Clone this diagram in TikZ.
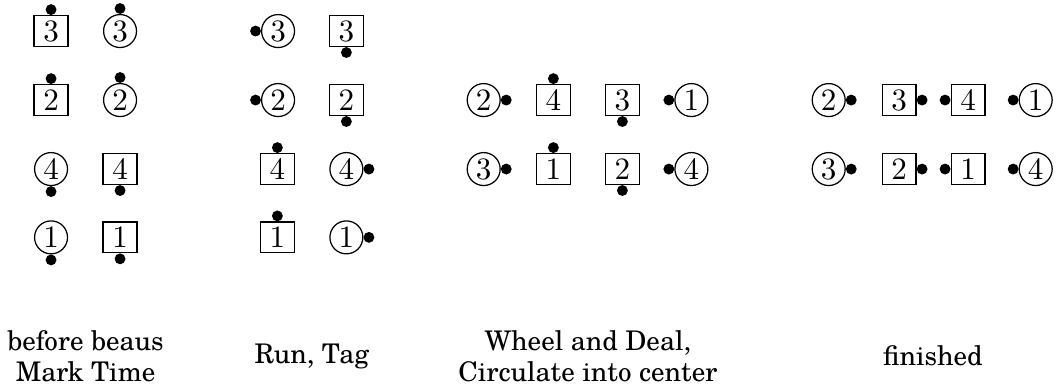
\documentclass[tikz,border=0pt]{standalone}
\usepackage{fontspec}
\setmainfont{TeX Gyre Schola}
\usepackage{tikz}

\begin{document}
\begin{tikzpicture}[x=0.78cm, y=0.78cm,
    boy/.style={draw, line width=0.4pt, rectangle, inner sep=0pt, minimum width=10.9pt, minimum height=9.9pt},
    girl/.style={draw, line width=0.4pt, circle, inner sep=0pt, minimum size=10.6pt},
    facing/.style={fill=black},
    caption/.style={align=center, font=\fontsize{8.7}{10.1}\selectfont}]
  \useasboundingbox (0,0) rectangle (15.362,-5.681);

  % --- 1. before beaus Mark Time ---
  \node[boy]  (a3b) at (0.74,-0.45) {$3$};
  \node[girl] (a3g) at (1.74,-0.45) {$3$};
  \node[boy]  (a2b) at (0.74,-1.45) {$2$};
  \node[girl] (a2g) at (1.74,-1.45) {$2$};
  \node[girl] (a4g) at (0.74,-2.45) {$4$};
  \node[boy]  (a4b) at (1.74,-2.45) {$4$};
  \node[girl] (a1g) at (0.74,-3.44) {$1$};
  \node[boy]  (a1b) at (1.74,-3.44) {$1$};
  \fill[facing] (a3b.north) ++(0,1.75pt) circle (1.75pt);
  \fill[facing] (a3g.north) ++(0,1.75pt) circle (1.75pt);
  \fill[facing] (a2b.north) ++(0,1.75pt) circle (1.75pt);
  \fill[facing] (a2g.north) ++(0,1.75pt) circle (1.75pt);
  \fill[facing] (a4g.south) ++(0,-1.75pt) circle (1.75pt);
  \fill[facing] (a4b.south) ++(0,-1.75pt) circle (1.75pt);
  \fill[facing] (a1g.south) ++(0,-1.75pt) circle (1.75pt);
  \fill[facing] (a1b.south) ++(0,-1.75pt) circle (1.75pt);

  % --- 2. Run, Tag ---
  \node[girl] (b3g) at (4.03,-0.45) {$3$};
  \node[boy]  (b3b) at (5.02,-0.45) {$3$};
  \node[girl] (b2g) at (4.03,-1.45) {$2$};
  \node[boy]  (b2b) at (5.02,-1.45) {$2$};
  \node[boy]  (b4b) at (4.02,-2.45) {$4$};
  \node[girl] (b4g) at (5.02,-2.45) {$4$};
  \node[boy]  (b1b) at (4.02,-3.44) {$1$};
  \node[girl] (b1g) at (5.02,-3.44) {$1$};
  \fill[facing] (b3g.west) ++(-1.75pt,0) circle (1.75pt);
  \fill[facing] (b3b.south) ++(0,-1.75pt) circle (1.75pt);
  \fill[facing] (b2g.west) ++(-1.75pt,0) circle (1.75pt);
  \fill[facing] (b2b.south) ++(0,-1.75pt) circle (1.75pt);
  \fill[facing] (b4b.north) ++(0,1.75pt) circle (1.75pt);
  \fill[facing] (b4g.east) ++(1.75pt,0) circle (1.75pt);
  \fill[facing] (b1b.north) ++(0,1.75pt) circle (1.75pt);
  \fill[facing] (b1g.east) ++(1.75pt,0) circle (1.75pt);

  % --- 3. Wheel and Deal, Circulate into center ---
  \node[girl] (c2g) at (7.01,-1.45) {$2$};
  \node[boy]  (c4b) at (8.02,-1.45) {$4$};
  \node[boy]  (c3b) at (9.02,-1.45) {$3$};
  \node[girl] (c1g) at (10.02,-1.45) {$1$};
  \node[girl] (c3g) at (7.01,-2.45) {$3$};
  \node[boy]  (c1b) at (8.02,-2.45) {$1$};
  \node[boy]  (c2b) at (9.02,-2.45) {$2$};
  \node[girl] (c4g) at (10.02,-2.45) {$4$};
  \fill[facing] (c2g.east) ++(1.75pt,0) circle (1.75pt);
  \fill[facing] (c4b.north) ++(0,1.75pt) circle (1.75pt);
  \fill[facing] (c3b.south) ++(0,-1.75pt) circle (1.75pt);
  \fill[facing] (c1g.west) ++(-1.75pt,0) circle (1.75pt);
  \fill[facing] (c3g.east) ++(1.75pt,0) circle (1.75pt);
  \fill[facing] (c1b.north) ++(0,1.75pt) circle (1.75pt);
  \fill[facing] (c2b.south) ++(0,-1.75pt) circle (1.75pt);
  \fill[facing] (c4g.west) ++(-1.75pt,0) circle (1.75pt);

  % --- 4. finished ---
  \node[girl] (d2g) at (12.01,-1.45) {$2$};
  \node[boy]  (d3b) at (13.03,-1.45) {$3$};
  \node[boy]  (d4b) at (14.03,-1.45) {$4$};
  \node[girl] (d1g) at (15.01,-1.45) {$1$};
  \node[girl] (d3g) at (12.01,-2.45) {$3$};
  \node[boy]  (d2b) at (13.03,-2.45) {$2$};
  \node[boy]  (d1b) at (14.03,-2.45) {$1$};
  \node[girl] (d4g) at (15.01,-2.45) {$4$};
  \fill[facing] (d2g.east) ++(1.75pt,0) circle (1.75pt);
  \fill[facing] (d3b.east) ++(1.75pt,0) circle (1.75pt);
  \fill[facing] (d4b.west) ++(-1.75pt,0) circle (1.75pt);
  \fill[facing] (d1g.west) ++(-1.75pt,0) circle (1.75pt);
  \fill[facing] (d3g.east) ++(1.75pt,0) circle (1.75pt);
  \fill[facing] (d2b.east) ++(1.75pt,0) circle (1.75pt);
  \fill[facing] (d1b.west) ++(-1.75pt,0) circle (1.75pt);
  \fill[facing] (d4g.west) ++(-1.75pt,0) circle (1.75pt);

  % --- 5. Captions ---
  \node[caption] (capa) at (1.24,-5.16) {before beaus\\Mark Time};
  \node[caption] (capb) at (4.52,-5.16) {Run, Tag};
  \node[caption] (capc) at (8.52,-5.16) {Wheel and Deal,\\Circulate into center};
  \node[caption] (capd) at (13.52,-5.16) {finished};

\end{tikzpicture}
\end{document}
